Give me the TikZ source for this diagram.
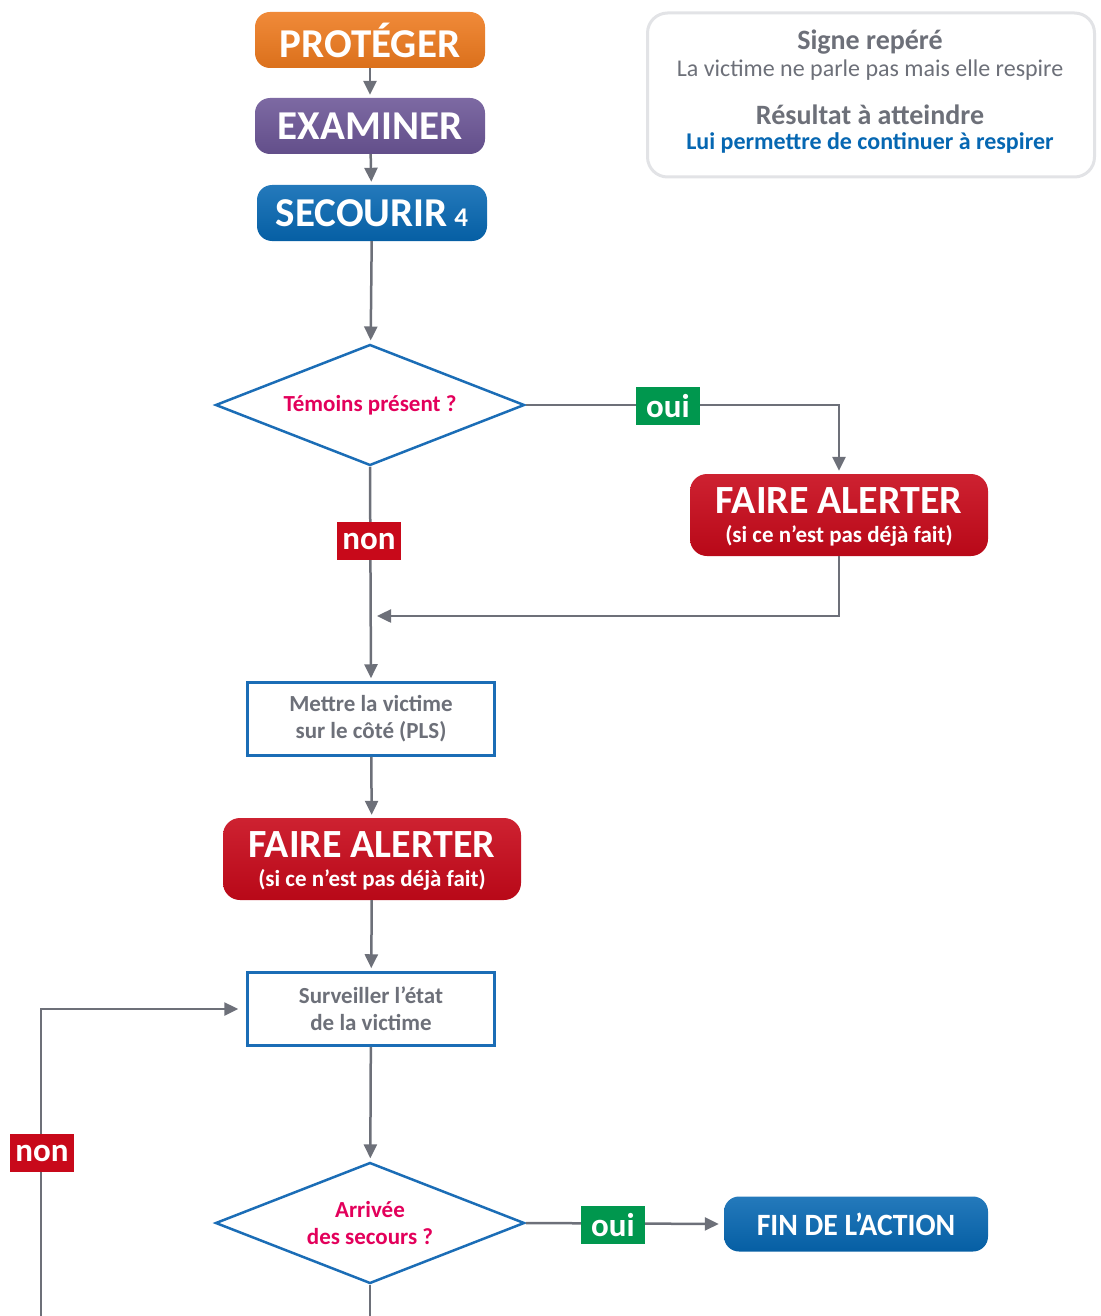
\documentclass[tikz,border=0pt]{standalone}
\usepackage{fontspec}
\setmainfont{Carlito}
\usetikzlibrary{arrows.meta,shapes.geometric}

\definecolor{cOrange}{HTML}{EE7A1E}
\definecolor{cPurple}{HTML}{6B5596}
\definecolor{cBlue}{HTML}{0667B2}
\definecolor{cRed}{HTML}{C8091A}
\definecolor{cGreen}{HTML}{00974E}
\definecolor{cGray}{HTML}{6D7079}
\definecolor{cMagenta}{HTML}{E3005B}
\definecolor{cOutline}{HTML}{1B6DB6}
\definecolor{cPanel}{HTML}{E2E3E6}

\newcommand{\fsz}[1]{\fontsize{#1}{#1}\selectfont}

\tikzset{
  pill/.style={rounded corners=15pt, inner sep=0pt, text=white,
    top color=#1!88!white, bottom color=#1!92!black,
    minimum width=230pt, minimum height=56pt, font=\bfseries\fsz{41}},
  alertbox/.style={rounded corners=17pt, inner sep=0pt, text=white,
    top color=cRed!90!white, bottom color=cRed!92!black, align=center,
    minimum width=298pt, minimum height=82pt, text depth=0pt,
    font=\bfseries\fontsize{23}{29}\selectfont},
  question/.style={diamond, aspect=2.55, draw=cOutline, line width=2.5pt, fill=white,
    inner sep=0pt, minimum width=309pt, minimum height=121pt,
    text=cMagenta, align=center, font=\bfseries\fontsize{23}{27}\selectfont},
  stepbox/.style={rectangle, draw=cOutline, line width=2.5pt, fill=white,
    minimum width=247pt, minimum height=73pt, inner sep=0pt,
    text=cGray, align=center, font=\bfseries\fontsize{23}{27}\selectfont},
  tag/.style={inner sep=0pt, minimum width=64pt, minimum height=38pt,
    text=white, font=\bfseries\fsz{33}, fill=#1},
  link/.style={draw=cGray, line width=2.5pt},
  arr/.style={link, -{Triangle[length=14pt,width=13pt]}, shorten >=3pt},
}

\begin{document}
\begin{tikzpicture}[x=1pt,y=-1pt]
\useasboundingbox (0,0) rectangle (1100,1316);

% information panel
\node[draw=cPanel, line width=3pt, rounded corners=20pt, fill=white,
  minimum width=447pt, minimum height=164pt, inner sep=0pt] (panel) at (871,95) {};
\node[text=cGray, font=\bfseries\fsz{28}] (signe) at (870,42) {Signe repéré};
\node[text=cGray, font=\fsz{24}] (signetxt) at (870,70) {La victime ne parle pas mais elle respire};
\node[text=cGray, font=\bfseries\fsz{28}] (result) at (870,115) {Résultat à atteindre};
\node[text=cBlue, font=\bfseries\fsz{24}] (resulttxt) at (870,143) {Lui permettre de continuer à respirer};

% main steps
\node[pill=cOrange] (prot) at (370,40) {PROTÉGER};
\node[pill=cPurple] (exam) at (370,126) {EXAMINER};
\node[pill=cBlue] (sec) at (372,213) {SECOURIR\,{\fsz{27}4}};

\node[question] (d1) at (370,405) {Témoins présent ?};
\node[alertbox] (fa1) at (839,515)
  {{\fsz{40}FAIRE ALERTER}\\(si ce n’est pas déjà fait)};
\node[stepbox] (pls) at (371,719) {Mettre la victime\\sur le côté (PLS)};
\node[alertbox] (fa2) at (372,859)
  {{\fsz{40}FAIRE ALERTER}\\(si ce n’est pas déjà fait)};
\node[stepbox] (surv) at (371,1009) {Surveiller l’état\\de la victime};
\node[question] (d2) at (370,1223) {Arrivée\\des secours ?};
\node[pill=cBlue, minimum width=264pt, minimum height=55pt, font=\bfseries\fsz{31}]
  (fin) at (856,1224) {\scalebox{0.96}[1]{FIN DE L’ACTION}};

\coordinate (merge) at (374,616);
\coordinate (loopR) at (370,1320);
\coordinate (loopL) at (41,1320);

% connectors
\draw[arr] (prot) -- (exam);
\draw[arr] (exam) -- (sec);
\draw[arr] (sec) -- (d1);
\draw[arr] (d1.east) -| (fa1.north);
\draw[arr] (d1.south) -- (pls.north);
\draw[arr] (fa1.south) |- (merge);
\draw[arr] (pls) -- (fa2);
\draw[arr] (fa2) -- (surv);
\draw[arr] (surv) -- (d2);
\draw[arr, shorten >=5pt] (d2.east) -- (fin.west);
\draw[link] (d2.south) -- (loopR);
\draw[arr, shorten >=8pt] (loopL) |- (surv.west);

% branch labels
\node[tag=cGreen] (oui1) at (668,406) {oui};
\node[tag=cRed] (non1) at (369,541) {non};
\node[tag=cGreen] (oui2) at (613,1225) {oui};
\node[tag=cRed] (non2) at (42,1153) {non};
\end{tikzpicture}
\end{document}
